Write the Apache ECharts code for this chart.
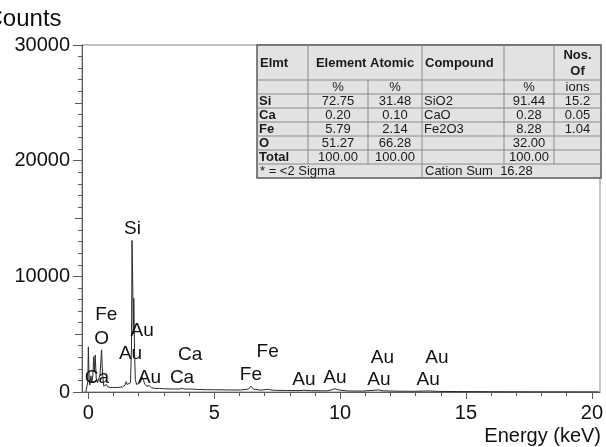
<!DOCTYPE html>
<html>
<head>
<meta charset="utf-8">
<script src="https://cdn.jsdelivr.net/npm/echarts@6/dist/echarts.min.js"></script>
<style>
  html, body { margin: 0; padding: 0; background: #fff; }
  #chart { width: 606px; height: 447px; }
</style>
</head>
<body>
<div id="chart"></div>
<script>
// EDS spectrum: energy (keV) and counts per channel
const energy = [-0.10, -0.04, -0.02, 0.00, 0.03, 0.06, 0.10, 0.14, 0.18, 0.21, 0.24, 0.27, 0.31, 0.36, 0.41, 0.46, 0.52, 0.56, 0.61, 0.66, 0.71, 0.76, 0.85, 1.00, 1.20, 1.35, 1.45, 1.49, 1.53, 1.60, 1.66, 1.70, 1.72, 1.75, 1.77, 1.79, 1.82, 1.85, 1.90, 1.97, 2.03, 2.08, 2.12, 2.16, 2.22, 2.30, 2.40, 2.48, 2.60, 2.80, 3.00, 3.30, 3.60, 3.69, 3.78, 4.00, 4.30, 4.70, 5.00, 5.50, 6.00, 6.30, 6.40, 6.50, 6.80, 7.06, 7.30, 7.80, 8.30, 8.49, 8.80, 9.40, 9.60, 9.71, 9.85, 10.2, 10.8, 11.44, 11.6, 12.2, 12.8, 13.38, 13.8, 14.5, 15.5, 16.5, 17.5, 18.5, 19.5, 20.1];
const counts = [0, 100, 900, 3900, 1200, 600, 1400, 800, 1500, 3050, 1800, 3200, 1200, 800, 900, 1500, 3650, 1500, 500, 450, 650, 450, 400, 380, 400, 450, 600, 900, 650, 600, 800, 4000, 13100, 9000, 5000, 8100, 3500, 1100, 650, 600, 800, 1000, 1300, 1100, 700, 500, 550, 380, 320, 300, 280, 260, 260, 330, 250, 260, 220, 200, 190, 180, 170, 250, 500, 250, 160, 230, 150, 130, 120, 150, 110, 100, 200, 280, 180, 90, 80, 180, 100, 70, 60, 90, 50, 40, 30, 20, 15, 10, 8, 5];

// Element line labels: name, line energy (keV), label height (counts)
const peakNames  = ['Si', 'Fe', 'O', 'Au', 'Au', 'Ca', 'Au', 'Ca', 'Ca', 'Fe', 'Fe', 'Au', 'Au', 'Au', 'Au', 'Au', 'Au'];
const peakEnergy = [1.74, 0.705, 0.525, 2.12, 1.66, 0.341, 2.41, 3.69, 4.01, 6.40, 7.06, 8.49, 9.71, 11.44, 11.58, 13.38, 13.73];
const peakLevel  = [14100, 6700, 4600, 5300, 3300, 1250, 1250, 1250, 3250, 1450, 3450, 1050, 1200, 1050, 2950, 1050, 2950];

// Quantification table
const headTitles  = ['Elmt', 'Element Atomic', 'Compound', '', 'Nos.', 'Of'];
const unitRow     = ['', '%', '%', '', '%', 'ions'];
const elements    = ['Si', 'Ca', 'Fe', 'O', 'Total'];
const elementPct  = ['72.75', '0.20', '5.79', '51.27', '100.00'];
const atomicPct   = ['31.48', '0.10', '2.14', '66.28', '100.00'];
const compounds   = ['SiO2', 'CaO', 'Fe2O3', '', ''];
const compoundPct = ['91.44', '0.28', '8.28', '32.00', '100.00'];
const ionCounts   = ['15.2', '0.05', '1.04', '', ''];
const footLeft    = '* = <2 Sigma';
const footRight   = 'Cation Sum  16.28';

// Axis ticks
const yTicks = [0, 10000, 20000, 30000];
const xTicks = [0, 5, 10, 15, 20];

const FONT = '"Liberation Sans", Arial, sans-serif';

// ---- table drawn with graphic elements ----
function buildTable() {
  const cols = [257, 308, 368, 422, 504, 554, 601];
  const top = 45, headBottom = 80, rowH = 14;
  const nRows = 7;
  const bottom = headBottom + rowH * nRows;
  const els = [];
  const lineStyle = { stroke: '#8a8a8a', lineWidth: 1 };
  els.push({ type: 'rect', shape: { x: cols[0], y: top, width: cols[6] - cols[0], height: bottom - top },
    style: { fill: '#e2e2e2', stroke: '#5a5a5a', lineWidth: 1.5 }, z: 10 });
  for (let i = 0; i < nRows; i++) {
    const y = headBottom + rowH * i;
    els.push({ type: 'line', shape: { x1: cols[0], y1: y, x2: cols[6], y2: y }, style: lineStyle, z: 11 });
  }
  const lastRow = headBottom + rowH * (nRows - 1);
  [[1, top, lastRow], [2, headBottom, lastRow], [3, top, bottom], [4, top, lastRow], [5, top, lastRow]].forEach(v => {
    els.push({ type: 'line', shape: { x1: cols[v[0]], y1: v[1], x2: cols[v[0]], y2: v[2] }, style: lineStyle, z: 11 });
  });
  function txt(s, x, y, align, bold) {
    els.push({ type: 'text', x: x, y: y + 0.5, z: 12,
      style: { text: s, fill: '#1a1a1a', font: (bold ? 'bold ' : '') + '13px ' + FONT, textAlign: align, textVerticalAlign: 'middle' } });
  }
  const cx = i => (cols[i] + cols[i + 1]) / 2;
  const hy = (top + headBottom) / 2;
  txt(headTitles[0], cols[0] + 3, hy, 'left', true);
  txt(headTitles[1], (cols[1] + cols[3]) / 2, hy, 'center', true);
  txt(headTitles[2], cols[3] + 3, hy, 'left', true);
  txt(headTitles[4], cx(5), hy - 8, 'center', true);
  txt(headTitles[5], cx(5), hy + 8, 'center', true);
  const uy = headBottom + rowH / 2;
  [1, 2, 4, 5].forEach(i => txt(unitRow[i], cx(i), uy, 'center', false));
  elements.forEach((e, r) => {
    const y = headBottom + rowH * (r + 1) + rowH / 2;
    txt(e, cols[0] + 2, y, 'left', true);
    txt(elementPct[r], cx(1), y, 'center', false);
    txt(atomicPct[r], cx(2), y, 'center', false);
    txt(compounds[r], cols[3] + 2, y, 'left', false);
    txt(compoundPct[r], cx(4), y, 'center', false);
    txt(ionCounts[r], cx(5), y, 'center', false);
  });
  const fy = lastRow + rowH / 2;
  txt(footLeft, cols[0] + 3, fy, 'left', false);
  txt(footRight, cols[3] + 3, fy, 'left', false);
  return els;
}

const chart = echarts.init(document.getElementById('chart'), null, { renderer: 'canvas' });
const axisGray = '#5a5a5a';
const labelStyle = { color: '#111', fontSize: 20, fontFamily: FONT };

chart.setOption({
  animation: false,
  backgroundColor: '#fff',
  grid: [
    { left: 82, right: 6, top: 45, bottom: 55, show: true, borderColor: '#8a8a8a', borderWidth: 1 },
    { left: 88.35, right: 9.8, top: 45, bottom: 55 }
  ],
  xAxis: [
    { type: 'value', gridIndex: 0, min: -0.25, max: 20.15,
      axisLine: { show: true, onZero: false, lineStyle: { color: axisGray } },
      axisTick: { show: false }, axisLabel: { show: false }, splitLine: { show: false } },
    { type: 'value', gridIndex: 1, min: xTicks[0], max: xTicks[xTicks.length - 1], interval: 5,
      axisLine: { show: false, onZero: false },
      axisTick: { show: true, length: 7, lineStyle: { color: axisGray } },
      minorTick: { show: true, splitNumber: 5, length: 4, lineStyle: { color: axisGray } },
      axisLabel: Object.assign({ margin: 11, formatter: v => String(v) }, labelStyle),
      splitLine: { show: false } }
  ],
  yAxis: [
    { type: 'value', gridIndex: 0, min: yTicks[0], max: yTicks[yTicks.length - 1], interval: 10000,
      axisLine: { show: true, onZero: false, lineStyle: { color: axisGray } },
      axisTick: { show: true, length: 9, lineStyle: { color: axisGray } },
      minorTick: { show: true, splitNumber: 10, length: 4, lineStyle: { color: axisGray } },
      axisLabel: Object.assign({ margin: 12, formatter: v => String(v) }, labelStyle),
      splitLine: { show: false } },
    { type: 'value', gridIndex: 0, min: 0, max: 30000, interval: 5000, position: 'left', offset: 0,
      axisLine: { show: false, onZero: false },
      axisTick: { show: true, length: 7, lineStyle: { color: axisGray } },
      axisLabel: { show: false }, splitLine: { show: false } },
    { type: 'value', gridIndex: 1, min: 0, max: 30000, show: false }
  ],
  series: [
    { type: 'line', xAxisIndex: 0, yAxisIndex: 0, showSymbol: false, symbol: 'none',
      lineStyle: { color: '#2a2a2a', width: 1 },
      data: energy.map((e, i) => [e, counts[i]]), z: 3 },
    { type: 'scatter', xAxisIndex: 0, yAxisIndex: 0, symbolSize: 0,
      itemStyle: { opacity: 1 },
      label: { show: true, position: 'inside', formatter: p => peakNames[p.dataIndex],
        color: '#111', opacity: 1, fontSize: 19, fontFamily: FONT },
      emphasis: { disabled: true },
      data: peakEnergy.map((e, i) => [e, peakLevel[i]]), z: 4 }
  ],
  graphic: buildTable().concat([
    { type: 'text', x: -14.5, y: 7, z: 20,
      style: { text: 'Counts', fill: '#111', font: '24px ' + FONT, textAlign: 'left', textVerticalAlign: 'top' } },
    { type: 'text', x: 601, y: 446, z: 20,
      style: { text: 'Energy (keV)', fill: '#111', font: '20px ' + FONT, textAlign: 'right', textVerticalAlign: 'bottom' } }
  ])
});
</script>
</body>
</html>
